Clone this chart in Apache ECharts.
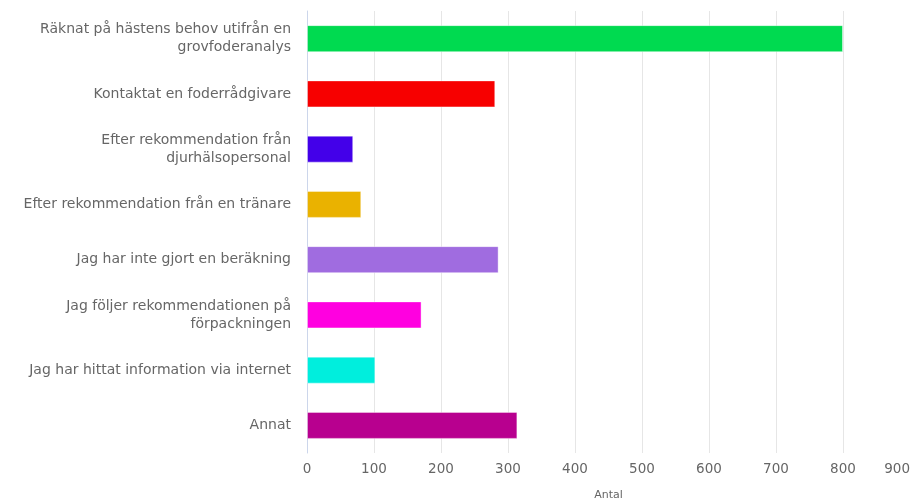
<!DOCTYPE html>
<html>
<head>
<meta charset="utf-8">
<script src="https://cdn.jsdelivr.net/npm/echarts@6/dist/echarts.min.js"></script>
<style>
  html, body { margin: 0; padding: 0; background: #fff; }
  #chart { width: 910px; height: 504px; }
</style>
</head>
<body>
<div id="chart"></div>
<script>
const categories = [
    'Räknat på hästens behov utifrån en\ngrovfoderanalys',
    'Kontaktat en foderrådgivare',
    'Efter rekommendation från\ndjurhälsopersonal',
    'Efter rekommendation från en tränare',
    'Jag har inte gjort en beräkning',
    'Jag följer rekommendationen på\nförpackningen',
    'Jag har hittat information via internet',
    'Annat',
];
const values = [800, 281, 69, 81, 286, 171, 102, 314];
const colors = ['#00da50', '#f70000', '#4300e9', '#eab200', '#a06ce0', '#ff00e0', '#00eedd', '#b8008f'];
const xTicks = [0, 900, 100];

const chart = echarts.init(document.getElementById('chart'));

chart.setOption({
    animation: false,
    textStyle: { fontFamily: 'DejaVu Sans' },
    grid: { left: 307, right: 0, top: 11, bottom: 51, containLabel: false, outerBoundsMode: 'none' },
    xAxis: {
        type: 'value',
        min: xTicks[0],
        max: xTicks[1],
        interval: xTicks[2],
        name: 'Antal',
        nameLocation: 'middle',
        nameGap: 37,
        nameTextStyle: { color: '#666', fontSize: 11 },
        axisLine: { show: false },
        axisTick: { show: false },
        axisLabel: { color: '#666', fontSize: 13.5, margin: 9, alignMaxLabel: 'right' },
        splitLine: { lineStyle: { color: '#e6e6e6' } },
    },
    yAxis: {
        type: 'category',
        inverse: true,
        data: categories,
        axisLine: { lineStyle: { color: '#ccd6eb' } },
        axisTick: { show: false },
        axisLabel: {
            color: '#666',
            fontSize: 14,
            lineHeight: 18,
            margin: 16,
            align: 'right',
        },
    },
    series: [
        {
            type: 'bar',
            barWidth: 27,
            itemStyle: { borderColor: 'rgba(255,255,255,0.4)', borderWidth: 1 },
            data: values.map((v, i) => ({ value: v, itemStyle: { color: colors[i] } })),
        },
    ],
});
</script>
</body>
</html>
